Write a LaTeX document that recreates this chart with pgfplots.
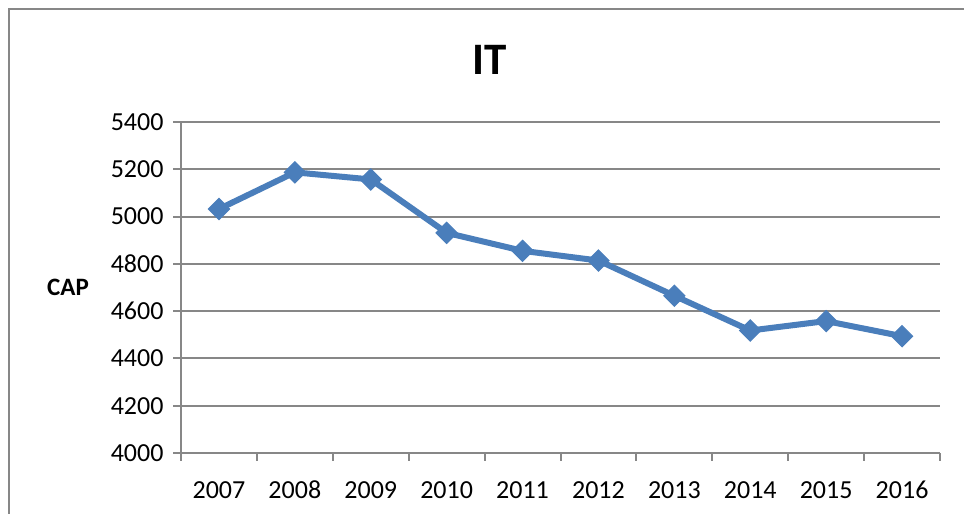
\documentclass[border=0pt]{standalone}
\usepackage{pgfplots}
\pgfplotsset{compat=1.18}
\usepackage{fontspec}
\setmainfont{Carlito}
\definecolor{lineblue}{HTML}{4A7EBB}
\definecolor{gridgray}{HTML}{878787}
\begin{document}
\begin{tikzpicture}[x=1bp,y=1bp]
\path[use as bounding box] (0,0) rectangle (964,514);
\draw[gridgray, line width=2bp] (9,0) -- (9,505) -- (964,505);
\begin{axis}[
  at={(181bp,61bp)}, anchor=south west,
  scale only axis, width=759bp, height=331bp,
  xmin=-0.5, xmax=9.5, ymin=4000, ymax=5400,
  xtick={-0.5,0.5,...,9.5},
  x tick label as interval,
  xticklabels={2007,2008,2009,2010,2011,2012,2013,2014,2015,2016},
  ytick={4000,4200,...,5400},
  axis x line*=bottom, axis y line*=left,
  axis line style={gridgray, line width=2bp, -},
  tick align=outside, major tick length=8bp,
  tick style={gridgray, line width=2bp},
  ymajorgrids, grid style={gridgray, line width=2bp},
  /pgf/number format/assume math mode=true,
  /pgf/number format/1000 sep={},
  tick label style={font=\fontsize{26bp}{30bp}\selectfont, black},
  xticklabel style={yshift=-17bp, text height=17bp, text depth=0bp},
  yticklabel style={xshift=-6bp},
  clip=false,
]
\addplot[lineblue, line width=6bp, mark=square*, mark size=7.5bp,
  mark options={rotate=45, fill=lineblue, line width=1bp}]
  coordinates {(0,5032) (1,5187) (2,5157) (3,4931) (4,4855) (5,4814) (6,4665) (7,4518) (8,4558) (9,4494)};
\node[font=\bfseries\fontsize{45bp}{50bp}\selectfont, anchor=center]
  at (axis description cs:0.407,1) [yshift=62bp] {IT};
\node[font=\bfseries\fontsize{25bp}{30bp}\selectfont, anchor=center]
  at (axis description cs:0,0.5) [xshift=-113bp] {CAP};
\end{axis}
\end{tikzpicture}
\end{document}
